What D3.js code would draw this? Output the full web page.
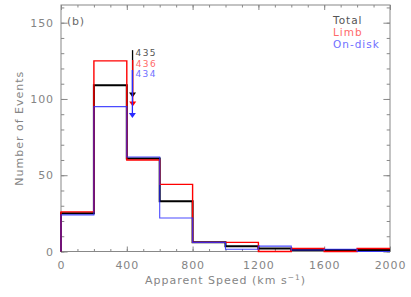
<!DOCTYPE html>
<html>
<head>
<meta charset="utf-8">
<script src="https://cdn.jsdelivr.net/npm/d3@7"></script>
<style>
  body { margin: 0; background: #fff; }
  text { font-family: "DejaVu Sans", sans-serif; }
</style>
</head>
<body>
<div class="canva"></div>
<script>
// histogram bins (km/s), 200 wide
const binEdges = [0, 200, 400, 600, 800, 1000, 1200, 1400, 1600, 1800, 2000]
const totalCounts = [25, 109, 61, 33, 6, 3.5, 2, 1, 1, 1]
const limbCounts = [26, 125, 60, 44, 6, 6, 0, 2, 0, 2]
const diskCounts = [24, 95, 62, 22, 6, 1.5, 3.5, 1, 1.5, 0]

// mean speed arrows: total, limb, on-disk
const arrowLabels = ["435", "436", "434"]
const arrowSpeed = [435, 436, 434]
const arrowTop = [132, 125.5, 119]
const arrowTip = [101, 95, 87.5]

const legendNames = ["Total", "Limb", "On-disk"]
const xMajor = [0, 400, 800, 1200, 1600, 2000]
const yMajor = [0, 50, 100, 150]

const lineColors = ['#000000', '#ff0000', '#2a2aff']
const textColors = ['#555555', '#ff6a6a', '#7070ff']

const W = 411, H = 297
const m = { left: 61, right: 390, top: 5, bottom: 251.5 }

const svg = d3.select(".canva").append("svg")
    .attr("width", W)
    .attr("height", H)

const x = d3.scaleLinear().domain([0, 2000]).range([m.left, m.right])
const y = d3.scaleLinear().domain([0, 161.6]).range([m.bottom, m.top])

const axisColor = "#888"
const labelColor = "#858585"
const xMinor = d3.range(0, 2001, 100)
const yMinor = d3.range(0, 161, 10)

function styleAxis(g) {
    g.select(".domain").remove()
    g.selectAll("line").attr("stroke", axisColor)
    g.selectAll("text").attr("fill", labelColor)
        .style("font-size", "11px").style("letter-spacing", "0.9px")
        .style("font-family", "DejaVu Sans")
}

// bottom / top
svg.append("g").attr("transform", `translate(0,${m.bottom})`)
    .call(d3.axisBottom(x).tickValues(xMinor).tickSize(-2.5).tickFormat(""))
    .call(styleAxis)
svg.append("g").attr("transform", `translate(0,${m.bottom})`)
    .call(d3.axisBottom(x).tickValues(xMajor).tickSize(-5).tickPadding(10).tickFormat(d3.format("d")))
    .call(styleAxis)
svg.append("g").attr("transform", `translate(0,${m.top})`)
    .call(d3.axisTop(x).tickValues(xMinor).tickSize(-2.5).tickFormat(""))
    .call(styleAxis)
svg.append("g").attr("transform", `translate(0,${m.top})`)
    .call(d3.axisTop(x).tickValues(xMajor).tickSize(-5).tickFormat(""))
    .call(styleAxis)

// left / right
svg.append("g").attr("transform", `translate(${m.left},0)`)
    .call(d3.axisLeft(y).tickValues(yMinor).tickSize(-3.3).tickFormat(""))
    .call(styleAxis)
svg.append("g").attr("transform", `translate(${m.left},0)`)
    .call(d3.axisLeft(y).tickValues(yMajor).tickSize(-6.6).tickPadding(7).tickFormat(d3.format("d")))
    .call(styleAxis)
svg.append("g").attr("transform", `translate(${m.right},0)`)
    .call(d3.axisRight(y).tickValues(yMinor).tickSize(-3.3).tickFormat(""))
    .call(styleAxis)
svg.append("g").attr("transform", `translate(${m.right},0)`)
    .call(d3.axisRight(y).tickValues(yMajor).tickSize(-6.6).tickFormat(""))
    .call(styleAxis)

svg.append("rect")
    .attr("x", m.left).attr("y", m.top)
    .attr("width", m.right - m.left).attr("height", m.bottom - m.top)
    .attr("fill", "none").attr("stroke", axisColor).attr("stroke-width", 1)

// step histograms
function stepPoints(counts) {
    const pts = [{ x: 0, y: 0 }]
    counts.forEach((c, i) => pts.push({ x: binEdges[i], y: c }))
    pts.push({ x: binEdges[binEdges.length - 1], y: counts[counts.length - 1] })
    return pts
}
const step = d3.line().x(d => x(d.x)).y(d => y(d.y)).curve(d3.curveStepAfter)

const series = [totalCounts, limbCounts, diskCounts]
const widths = [2, 1.4, 1.1]
const opac = [1, 1, 0.85]
series.forEach((s, i) => {
    svg.append("path")
        .attr("d", step(stepPoints(s)))
        .attr("fill", "none")
        .attr("stroke", lineColors[i])
        .attr("stroke-width", widths[i])
        .attr("stroke-opacity", opac[i])
})

// mean speed arrows
arrowSpeed.forEach((v, i) => {
    const ax = x(v), y0 = y(arrowTop[i]), y1 = y(arrowTip[i])
    svg.append("line")
        .attr("x1", ax).attr("x2", ax).attr("y1", y0).attr("y2", y1 - 4)
        .attr("stroke", lineColors[i]).attr("stroke-width", 1.3)
    svg.append("path")
        .attr("d", `M${ax - 3.5},${y1 - 5} L${ax + 3.5},${y1 - 5} L${ax},${y1} Z`)
        .attr("fill", lineColors[i])
    svg.append("text")
        .attr("x", ax + 3).attr("y", 56 + i * 10.7)
        .attr("fill", textColors[i])
        .style("font-size", "9px").style("letter-spacing", "1.4px")
        .text(arrowLabels[i])
})

// legend
legendNames.forEach((n, i) => {
    svg.append("text")
        .attr("x", 333).attr("y", 24 + i * 12)
        .attr("fill", textColors[i])
        .style("font-size", "10.5px").style("letter-spacing", "1px")
        .text(n)
})

svg.append("text")
    .attr("x", 67).attr("y", 25)
    .attr("fill", "#6a6a6a")
    .style("font-size", "11px").style("letter-spacing", "0.8px")
    .text("(b)")

// axis titles
svg.append("text")
    .attr("transform", `translate(23,${(m.top + m.bottom) / 2}) rotate(-90)`)
    .attr("text-anchor", "middle")
    .attr("fill", labelColor)
    .style("font-size", "11px").style("letter-spacing", "1px")
    .text("Number of Events")

const xt = svg.append("text")
    .attr("x", (m.left + m.right) / 2).attr("y", 284)
    .attr("text-anchor", "middle")
    .attr("fill", labelColor)
    .style("font-size", "11px").style("letter-spacing", "1px")
xt.append("tspan").text("Apparent Speed (km s")
xt.append("tspan").attr("dy", -4).style("font-size", "7.5px").text("−1")
xt.append("tspan").attr("dy", 4).text(")")
</script>
</body>
</html>
